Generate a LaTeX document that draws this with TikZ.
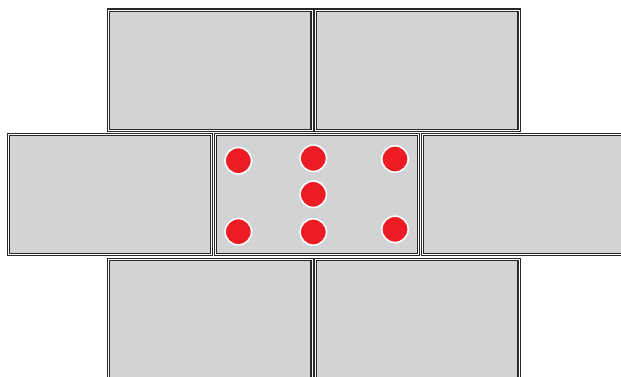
\documentclass[tikz,border=0pt]{standalone}
\definecolor{brickgray}{RGB}{209,211,212}
\definecolor{edgegray}{RGB}{40,40,40}
\definecolor{dotred}{RGB}{237,28,36}
\tikzset{
  brick/.style={rectangle, fill=brickgray, draw=edgegray, double=white,
    double distance=0.9pt, line width=1.1pt, inner sep=0pt,
    minimum width=203.4pt, minimum height=120.4pt},
  dot/.style={circle, fill=dotred, draw=white, line width=1.6pt,
    inner sep=0pt, minimum size=26.4pt}
}
\begin{document}
\begin{tikzpicture}[x=1pt,y=-1pt]
    \useasboundingbox (0,0) rectangle (621,376);
    \clip (0,0) rectangle (621,376);

    % top and bottom rows
    \foreach \x [count=\i] in {210.3,417.3} {
        \node[brick] (top\i) at (\x,70.2) {};
        \node[brick] (bot\i) at (\x,319.3) {};
    }
    % middle row
    \foreach \x [count=\i] in {109.8,317,524.3}
        \node[brick] (mid\i) at (\x,194.5) {};

    % dots on the middle brick
    \node[dot] (d1) at (238.3,160.7) {};
    \node[dot] (d2) at (313.3,158.3) {};
    \node[dot] (d3) at (395,159) {};
    \node[dot] (d4) at (313.3,194.3) {};
    \node[dot] (d5) at (238.3,231.7) {};
    \node[dot] (d6) at (313.3,232) {};
    \node[dot] (d7) at (395,229.3) {};
\end{tikzpicture}
\end{document}
